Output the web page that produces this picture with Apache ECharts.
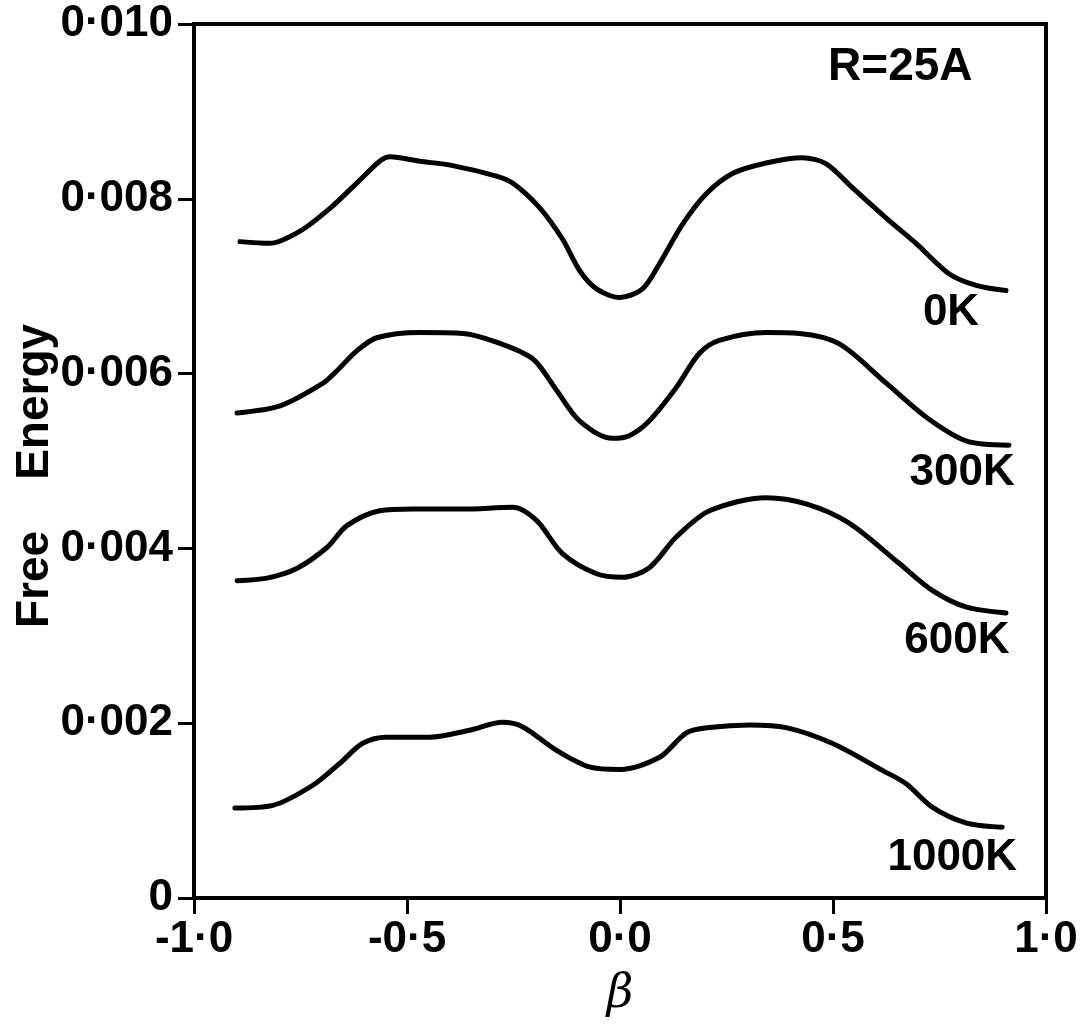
<!DOCTYPE html>
<html>
<head>
<meta charset="utf-8">
<script src="https://cdn.jsdelivr.net/npm/echarts@6/dist/echarts.min.js"></script>
<style>
html,body{margin:0;padding:0;background:#fff;}
#chart{width:1085px;height:1026px;}
</style>
</head>
<body>
<div id="chart"></div>
<script>
// ---- data ----
const xTickLabels = ['-1·0', '-0·5', '0·0', '0·5', '1·0'];
const yTickLabels = ['0', '0·002', '0·004', '0·006', '0·008', '0·010'];
const curveNames = ['0K', '300K', '600K', '1000K'];

const beta0K = [-0.892, -0.822, -0.751, -0.681, -0.618, -0.564, -0.540, -0.470, -0.393, -0.290, -0.252, -0.189, -0.135, -0.095, -0.055, -0.001, 0.053, 0.093, 0.147, 0.203, 0.264, 0.343, 0.428, 0.484, 0.545, 0.625, 0.695, 0.773, 0.836, 0.906];
const energy0K = [0.00751, 0.00749, 0.00763, 0.00789, 0.00818, 0.00843, 0.00848, 0.00843, 0.00838, 0.00826, 0.00818, 0.00790, 0.00754, 0.00718, 0.00697, 0.00687, 0.00697, 0.00726, 0.00771, 0.00806, 0.00829, 0.00841, 0.00847, 0.00840, 0.00813, 0.00778, 0.00749, 0.00714, 0.00701, 0.00695];

const beta300K = [-0.899, -0.798, -0.697, -0.665, -0.618, -0.571, -0.470, -0.369, -0.290, -0.205, -0.149, -0.095, -0.018, 0.022, 0.069, 0.132, 0.186, 0.233, 0.343, 0.421, 0.515, 0.625, 0.719, 0.812, 0.913];
const energy300K = [0.00555, 0.00563, 0.00589, 0.00603, 0.00626, 0.00641, 0.00647, 0.00646, 0.00636, 0.00617, 0.00581, 0.00546, 0.00526, 0.00529, 0.00546, 0.00584, 0.00623, 0.00638, 0.00647, 0.00646, 0.00634, 0.00589, 0.00550, 0.00523, 0.00518];

const beta600K = [-0.899, -0.829, -0.759, -0.688, -0.641, -0.564, -0.486, -0.369, -0.252, -0.196, -0.135, -0.055, 0.006, 0.069, 0.132, 0.210, 0.343, 0.437, 0.538, 0.655, 0.733, 0.812, 0.906];
const energy600K = [0.00363, 0.00366, 0.00377, 0.00401, 0.00426, 0.00443, 0.00445, 0.00445, 0.00447, 0.00432, 0.00394, 0.00371, 0.00367, 0.00378, 0.00413, 0.00443, 0.00458, 0.00451, 0.00429, 0.00383, 0.00352, 0.00333, 0.00326];

const beta1000K = [-0.904, -0.815, -0.721, -0.658, -0.604, -0.548, -0.447, -0.353, -0.276, -0.229, -0.149, -0.072, 0.0, 0.093, 0.156, 0.210, 0.304, 0.390, 0.498, 0.616, 0.671, 0.733, 0.812, 0.897];
const energy1000K = [0.00103, 0.00106, 0.00129, 0.00154, 0.00177, 0.00184, 0.00184, 0.00192, 0.00201, 0.00196, 0.00169, 0.00150, 0.00147, 0.00161, 0.00189, 0.00195, 0.00198, 0.00195, 0.00177, 0.00146, 0.00131, 0.00104, 0.00086, 0.00081];

// ---- build ----
const FONT = '"Liberation Sans", Arial, sans-serif';
const zip = (xs, ys) => xs.map((x, i) => [x, ys[i]]);
const curves = [
  {name: curveNames[0], data: zip(beta0K, energy0K), labelAt: [0.777, 0.00670]},
  {name: curveNames[1], data: zip(beta300K, energy300K), labelAt: [0.803, 0.00487]},
  {name: curveNames[2], data: zip(beta600K, energy600K), labelAt: [0.791, 0.00294]},
  {name: curveNames[3], data: zip(beta1000K, energy1000K), labelAt: [0.780, 0.00046]}
];

const labelStyle = {fontFamily: FONT, fontWeight: 'bold', fontSize: 44, color: '#000'};

const series = curves.map(c => ({
  name: c.name,
  type: 'line',
  data: c.data,
  smooth: 0.3,
  showSymbol: false,
  symbol: 'none',
  lineStyle: {color: '#000', width: 5, cap: 'round', join: 'round'},
  markPoint: {
    symbol: 'circle', symbolSize: 0, silent: true,
    data: [{coord: c.labelAt, value: c.name}],
    label: Object.assign({show: true, position: 'inside', formatter: c.name}, labelStyle)
  },
  z: 3
}));

series.push({
  type: 'line', data: [], silent: true,
  markPoint: {
    symbol: 'circle', symbolSize: 0,
    data: [{coord: [0.658, 0.00951], value: 'R=25A'}],
    label: Object.assign({show: true, position: 'inside', formatter: 'R=25A'}, labelStyle, {fontSize: 46})
  }
});

const chart = echarts.init(document.getElementById('chart'), null, {renderer: 'canvas'});
chart.setOption({
  backgroundColor: '#fff',
  animation: false,
  grid: {left: 194, right: 39, top: 24, bottom: 128, show: true, borderColor: '#000', borderWidth: 4,
    containLabel: false, outerBoundsMode: 'none'},
  xAxis: {
    type: 'value', min: -1, max: 1, interval: 0.5,
    name: 'β', nameLocation: 'middle', nameGap: 74, nameMoveOverlap: false,
    nameTextStyle: {fontFamily: '"DejaVu Serif", serif', fontStyle: 'italic', fontSize: 46, color: '#000'},
    axisLine: {show: true, onZero: false, lineStyle: {color: '#000', width: 4}},
    axisTick: {show: true, inside: false, length: 16, lineStyle: {color: '#000', width: 3}},
    splitLine: {show: false},
    axisLabel: {margin: 20, fontFamily: FONT, fontWeight: 'bold', fontSize: 44, color: '#000',
      formatter: v => xTickLabels[Math.round((v + 1) / 0.5)]}
  },
  yAxis: {
    type: 'value', min: 0, max: 0.01, interval: 0.002,
    name: 'Free    Energy', nameLocation: 'middle', nameGap: 136, nameRotate: 90, nameMoveOverlap: false,
    nameTextStyle: {fontFamily: FONT, fontWeight: 'bold', fontSize: 46, color: '#000', padding: [0, 30, 0, 0]},
    axisLine: {show: true, onZero: false, lineStyle: {color: '#000', width: 4}},
    axisTick: {show: true, inside: false, length: 16, lineStyle: {color: '#000', width: 3}},
    splitLine: {show: false},
    axisLabel: {margin: 21, fontFamily: FONT, fontWeight: 'bold', fontSize: 44, color: '#000',
      formatter: v => yTickLabels[Math.round(v / 0.002)]}
  },
  series: series
});
</script>
</body>
</html>
